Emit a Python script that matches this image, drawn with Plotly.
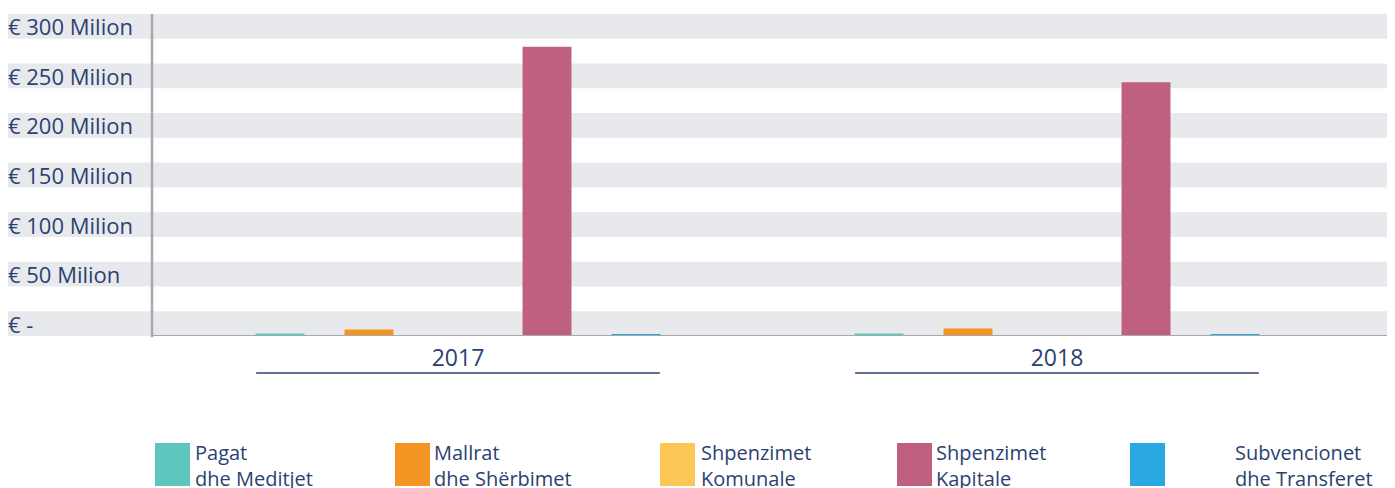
import plotly.graph_objects as go

years = ["2017", "2018"]
legend_line1 = ["Pagat", "Mallrat", "Shpenzimet", "Shpenzimet", "Subvencionet"]
legend_line2 = ["dhe Meditjet", "dhe Shërbimet", "Komunale", "Kapitale", "dhe Transferet"]
pagat = [2.5, 2.6]
mallrat = [6.5, 7.5]
komunale = [0.5, 0.5]
kapitale = [292, 256]
subvencionet = [1.6, 1.5]
colors = ["#5ec5bf", "#f49422", "#fdc757", "#bf607f", "#2aa9e0"]
tick_values = [0, 50, 100, 150, 200, 250, 300]
tick_labels = ["€ -", "€ 50 Milion", "€ 100 Milion", "€ 150 Milion", "€ 200 Milion",
               "€ 250 Milion", "€ 300 Milion"]

FONT = "Open Sans"
NAVY = "#2c4170"
GRID = "#e8e9ed"
AXIS = "#a7a9ac"

W, H = 1395, 488
OFF = 8  # page body margin
ML, MR, MT, MB = 0, 0, 6, 160
PW = W - ML - MR
PH = H - MT - MB

def sx(px):  # screen x -> paper x
    return (px - OFF - ML) / PW

def sy(py):  # screen y -> paper y
    return (H - MB - (py - OFF)) / PH

fig = go.Figure()
all_series = [pagat, mallrat, komunale, kapitale, subvencionet]
for l1, l2, vals, col in zip(legend_line1, legend_line2, all_series, colors):
    fig.add_trace(go.Bar(x=[0, 1], y=vals, name=l1 + " " + l2,
                         marker=dict(color=col, line=dict(width=0)), showlegend=False))

r0 = -(458 - OFF - ML) / 599
r1 = r0 + PW / 599
axis_x = r0 + (152 - OFF - ML) / 599

shapes = []
for v in tick_values:
    shapes.append(dict(type="rect", xref="paper", yref="y", x0=0, x1=1, y0=v, y1=v + 25,
                       fillcolor=GRID, line=dict(width=0), layer="below"))
shapes.append(dict(type="line", xref="x", yref="paper", x0=axis_x, x1=axis_x, y0=-0.004, y1=1,
                   line=dict(color=AXIS, width=2.5)))
shapes.append(dict(type="line", xref="x", yref="y", x0=axis_x, x1=r1, y0=-0.5, y1=-0.5,
                   line=dict(color=AXIS, width=3)))
for i in range(len(years)):
    shapes.append(dict(type="line", xref="x", yref="paper", x0=i - 0.337, x1=i + 0.337,
                       y0=sy(373), y1=sy(373), line=dict(color=NAVY, width=1.5)))

annotations = []
for v, t in zip(tick_values, tick_labels):
    annotations.append(dict(xref="paper", yref="y", x=0, y=v + 12.5, xanchor="left", yanchor="middle",
                            xshift=-2, text=t, showarrow=False,
                            font=dict(family=FONT, size=22, color=NAVY)))

sq_x = [155, 395, 660, 897, 1130]
tx_x = [195, 434, 701, 936, 1235]
for l1, l2, col, qx, tx in zip(legend_line1, legend_line2, colors, sq_x, tx_x):
    shapes.append(dict(type="rect", xref="paper", yref="paper",
                       x0=sx(qx), x1=sx(qx + 35), y0=sy(486), y1=sy(443),
                       fillcolor=col, line=dict(width=0)))
    annotations.append(dict(xref="paper", yref="paper", x=sx(tx - 2), y=sy(437),
                            xanchor="left", yanchor="top", align="left",
                            text=l1 + "<br>" + l2, showarrow=False,
                            font=dict(family=FONT, size=20, color=NAVY)))

fig.update_layout(
    width=W, height=H,
    margin=dict(l=ML, r=MR, t=MT, b=MB, pad=0),
    plot_bgcolor="white", paper_bgcolor="white",
    barmode="group", bargap=0.257, bargroupgap=0.45,
    shapes=shapes, annotations=annotations,
    font=dict(family=FONT, color=NAVY),
    xaxis=dict(range=[r0, r1], tickvals=[0, 1], ticktext=years, showgrid=False, zeroline=False,
               showline=False, ticks="", ticklabelstandoff=6,
               tickfont=dict(size=23, color=NAVY, family=FONT)),
    yaxis=dict(range=[0, 325], showticklabels=False, showgrid=False, zeroline=False,
               showline=False, ticks=""),
)

fig.write_html("out.html")
